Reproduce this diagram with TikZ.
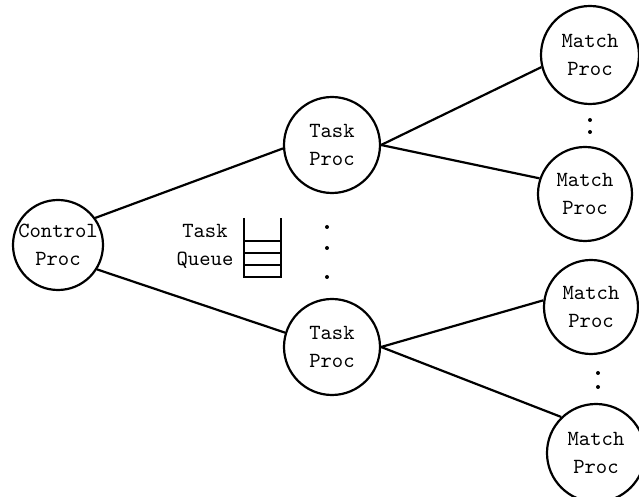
\documentclass[tikz,border=0pt]{standalone}
\usepackage{tikz}
\usetikzlibrary{positioning}

\begin{document}
\begin{tikzpicture}[x=0.5pt,y=-0.5pt,
  proc/.style={draw, circle, line width=1.1pt, minimum size=47pt, inner sep=0pt,
    align=center, font=\ttfamily\fontsize{10.8}{14}\selectfont},
  link/.style={line width=1.1pt}]
  \useasboundingbox (0,0) rectangle (639,497);
  % processes
  \node[proc, minimum size=45pt] (ctrl) at (58,245) {Control\\Proc};
  \node[proc, minimum size=48pt] (taskA) at (332,145) {Task\\Proc};
  \node[proc, minimum size=48pt] (taskB) at (332,347) {Task\\Proc};
  \node[proc, minimum size=49pt] (matchA) at (590,55) {Match\\Proc};
  \node[proc] (matchB) at (585,194) {Match\\Proc};
  \node[proc] (matchC) at (591,307) {Match\\Proc};
  \node[proc, minimum size=49pt] (matchD) at (596,453) {Match\\Proc};
  % links
  \draw[link] (ctrl.36) -- (taskA.184);
  \draw[link] (ctrl.-32) -- (taskB.163);
  \draw[link] (taskA.east) -- (matchA.194);
  \draw[link] (taskA.east) -- (matchB.161);
  \draw[link] (taskB.east) -- (matchC.172);
  \draw[link] (taskB.east) -- (matchD.134);
  % task queue
  \node[align=center, font=\ttfamily\fontsize{10.8}{14}\selectfont] (queue) at (205,246) {Task\\Queue};
  \draw[line width=0.9pt] (244,218) -- (244,277) -- (281,277) -- (281,218);
  \foreach \y in {241,253,265}
    \draw[line width=0.9pt] (244,\y) -- (281,\y);
  % dots
  \foreach \y in {227,248,277}
    \fill (327,\y) circle (1pt);
  \fill (590,120) circle (1pt);
  \fill (590,132) circle (1pt);
  \fill (598,373) circle (1pt);
  \fill (598,387) circle (1pt);
\end{tikzpicture}
\end{document}
